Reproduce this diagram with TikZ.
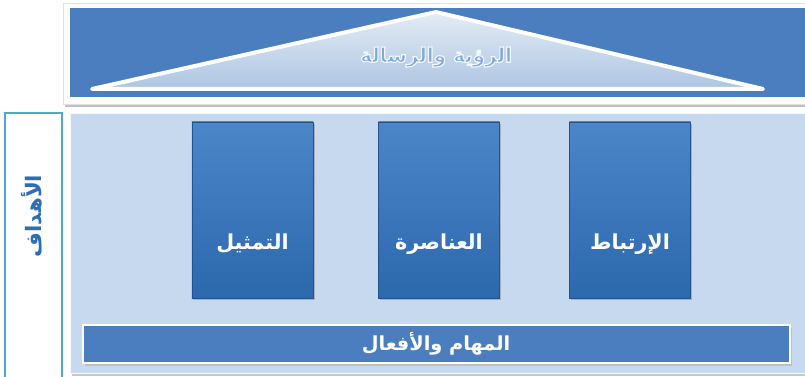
\documentclass[tikz,border=0pt]{standalone}
\usepackage{fontspec}
\newfontfamily\arabicfont[Script=Arabic]{DejaVu Sans}
\TeXXeTstate=1
\usetikzlibrary{shadows}
\definecolor{bandblue}{HTML}{4A7EBF}
\definecolor{panelblue}{HTML}{C6D9EE}
\definecolor{pillartop}{HTML}{4A86C8}
\definecolor{pillarbot}{HTML}{2C68AC}
\definecolor{tealline}{HTML}{4BACC6}
\definecolor{titleblue}{HTML}{7DA8E0}
\definecolor{textblue}{HTML}{2E6DB8}
\tikzset{
  pillar/.style={draw=pillarbot!80!black, line width=0.4pt, top color=pillartop, bottom color=pillarbot,
    drop shadow={shadow xshift=1pt, shadow yshift=-1.5pt, opacity=0.45}},
  lbl/.style={text=white, font=\arabicfont\bfseries\fontsize{15.5}{18}\selectfont},
}
\newcommand{\outlinedtext}[1]{\special{pdf:code 0.95 0.97 1 RG 0.9 w 2 Tr}#1\special{pdf:code 0 Tr}}
\begin{document}
\begin{tikzpicture}[x=0.75pt,y=-0.75pt]
\useasboundingbox (0,0) rectangle (805,377);
\fill[white] (0,0) rectangle (805,377);
% top frame
\fill[black!25] (65,6) rectangle (807,107);
\filldraw[fill=white, draw=black!12] (63,3) rectangle (807,104);
\fill[bandblue] (70,8) rectangle (807,97);
% triangle
\path[draw=white, line width=3pt, line join=round, top color=white!85!bandblue, bottom color=bandblue!45!white]
  (436,12) coordinate (apex) -- (92,89) coordinate (bl) -- (763,89) coordinate (br) -- cycle;
\node[text=titleblue, font=\arabicfont\bfseries\fontsize{15}{17}\selectfont] (title) at (436,57) {\outlinedtext{\beginR الرؤية والرسالة\endR}};
% left goals box
\filldraw[fill=white, draw=tealline, line width=0.8pt] (5,113) rectangle (62,380);
\node[rotate=90, text=textblue, font=\arabicfont\bfseries\fontsize{16}{18}\selectfont] (goals) at (32,216) {\beginR الأهداف\endR};
% main panel
\fill[black!22] (72,116) rectangle (807,376);
\filldraw[fill=panelblue, draw=white!85!panelblue] (70,113) rectangle (807,373);
% pillars
\node[pillar, minimum width=91pt, minimum height=132pt, inner sep=0pt] (p1) at (252.5,210) {};
\node[pillar, minimum width=91pt, minimum height=132pt, inner sep=0pt] (p2) at (439,210) {};
\node[pillar, minimum width=91pt, minimum height=132pt, inner sep=0pt] (p3) at (630,210) {};
\node[lbl] (t1) at (252.5,244) {\beginR التمثيل\endR};
\node[lbl] (t2) at (439,244) {\beginR العناصرة\endR};
\node[lbl] (t3) at (630,244) {\beginR الإرتباط\endR};
% bottom bar
\fill[black!25] (85,328) rectangle (792,366);
\filldraw[fill=bandblue, draw=white, line width=1.2pt] (83,325) rectangle (790,363);
\node[lbl, font=\arabicfont\bfseries\fontsize{14.5}{17}\selectfont] (tasks) at (436,344) {\beginR المهام والأفعال\endR};
\end{tikzpicture}
\end{document}
